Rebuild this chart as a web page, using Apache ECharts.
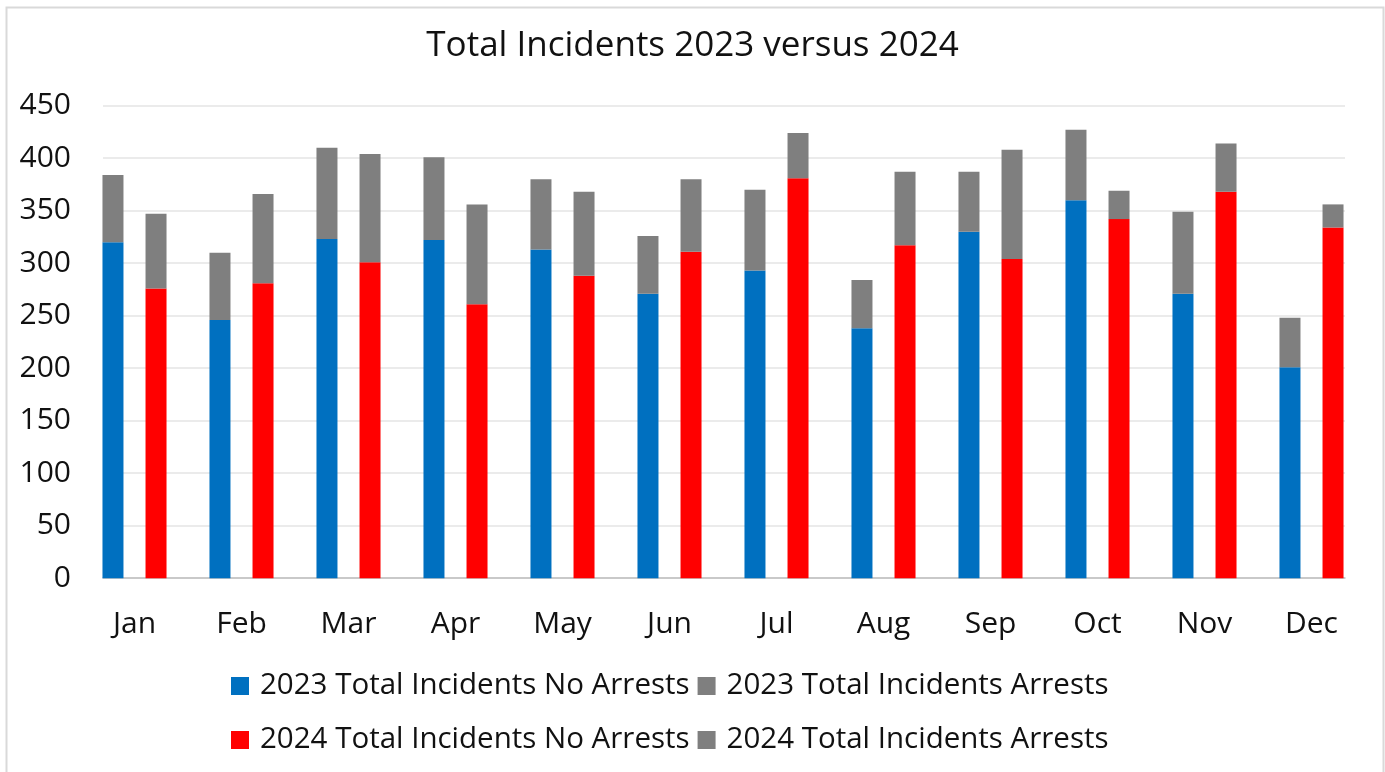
<!DOCTYPE html>
<html>
<head>
<meta charset="utf-8">
<script src="https://cdn.jsdelivr.net/npm/echarts@6/dist/echarts.min.js"></script>
<style>
html,body{margin:0;padding:0;background:#fff;}
#chart{width:1385px;height:772px;}
</style>
</head>
<body>
<div id="chart"></div>
<script>
const months = ['Jan','Feb','Mar','Apr','May','Jun','Jul','Aug','Sep','Oct','Nov','Dec'];
const noArrests2023 = [320, 246, 323, 322, 313, 271, 293, 238, 330, 360, 271, 201];
const arrests2023   = [64, 64, 87, 79, 67, 55, 77, 46, 57, 67, 78, 47];
const noArrests2024 = [276, 281, 301, 261, 288, 311, 381, 317, 304, 342, 368, 334];
const arrests2024   = [71, 85, 103, 95, 80, 69, 43, 70, 104, 27, 46, 22];
const yTicks = { min: 0, max: 450, interval: 50 };

const FONT = 'Open Sans';
const TXT = '#111';

const chart = echarts.init(document.getElementById('chart'));
const legendText = { fontFamily: FONT, fontSize: 29.5, color: TXT, padding: [0, 0, 0, 6] };
chart.setOption({
  backgroundColor: '#fff',
  animation: false,
  title: {
    text: 'Total Incidents 2023 versus 2024',
    left: 'center', top: 24,
    textStyle: { fontFamily: FONT, fontSize: 35, fontWeight: 'normal', color: TXT }
  },
  legend: [
    { data: ['2023 Total Incidents No Arrests', '2023 Total Incidents Arrests'],
      left: 226, top: 666, icon: 'rect', itemWidth: 18, itemHeight: 18,
      itemGap: 8, textStyle: legendText },
    { data: ['2024 Total Incidents No Arrests', '2024 Total Incidents Arrests'],
      left: 226, top: 720, icon: 'rect', itemWidth: 18, itemHeight: 18,
      itemGap: 8, textStyle: legendText }
  ],
  graphic: [{
    type: 'rect', left: 4, top: 5, z: -10,
    shape: { width: 1377, height: 800 },
    style: { fill: 'none', stroke: '#d9d9d9', lineWidth: 2 }
  }],
  grid: [
    { left: 81, right: 20, top: 105.7, bottom: 193.8 },
    { left: 103, right: 40, top: 105.7, bottom: 193.8 }
  ],
  xAxis: [
    { type: 'category', gridIndex: 0, data: months,
      axisLine: { show: false }, axisTick: { show: false },
      axisLabel: { fontFamily: FONT, fontSize: 30, color: TXT, margin: 31 } },
    { type: 'value', gridIndex: 1, min: 0, max: 1,
      axisLine: { show: true, lineStyle: { color: '#bfbfbf', width: 1.5 } },
      axisTick: { show: false }, axisLabel: { show: false }, splitLine: { show: false } }
  ],
  yAxis: [
    { type: 'value', gridIndex: 0, min: yTicks.min, max: yTicks.max, interval: yTicks.interval,
      axisLine: { show: false }, axisTick: { show: false }, splitLine: { show: false },
      axisLabel: { fontFamily: FONT, fontSize: 30, color: TXT, margin: 10 } },
    { type: 'value', gridIndex: 1, min: yTicks.min, max: yTicks.max, interval: yTicks.interval,
      axisLine: { show: false }, axisTick: { show: false }, axisLabel: { show: false },
      splitLine: { show: true, lineStyle: { color: '#e4e4e4', width: 1.5 } } }
  ],
  series: [
    { name: '2023 Total Incidents No Arrests', type: 'bar', stack: 'y2023',
      xAxisIndex: 0, yAxisIndex: 0, barWidth: 21, barGap: '105%',
      itemStyle: { color: '#0070c0' }, data: noArrests2023 },
    { name: '2023 Total Incidents Arrests', type: 'bar', stack: 'y2023',
      xAxisIndex: 0, yAxisIndex: 0, barWidth: 21, barGap: '105%',
      itemStyle: { color: '#7f7f7f' }, data: arrests2023 },
    { name: '2024 Total Incidents No Arrests', type: 'bar', stack: 'y2024',
      xAxisIndex: 0, yAxisIndex: 0, barWidth: 21, barGap: '105%',
      itemStyle: { color: '#ff0000' }, data: noArrests2024 },
    { name: '2024 Total Incidents Arrests', type: 'bar', stack: 'y2024',
      xAxisIndex: 0, yAxisIndex: 0, barWidth: 21, barGap: '105%',
      itemStyle: { color: '#7f7f7f' }, data: arrests2024 }
  ]
});
</script>
</body>
</html>
